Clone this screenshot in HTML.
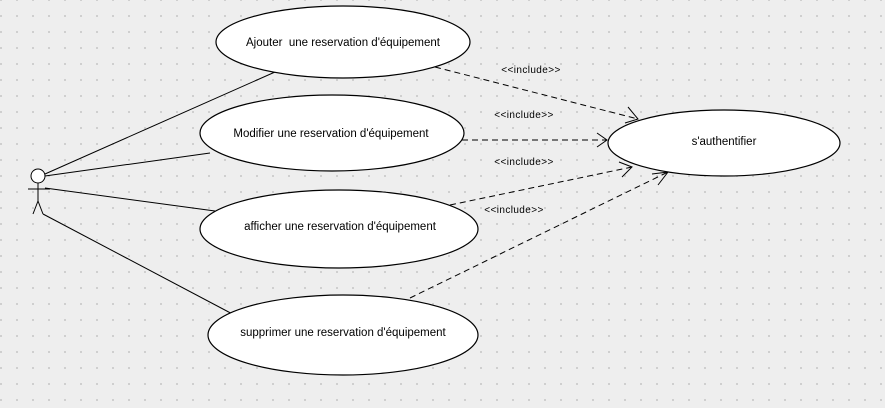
<!DOCTYPE html>
<html><head><meta charset="utf-8"><style>
html,body{margin:0;padding:0;background:#eeeeee;}
svg{display:block;}
text{font-family:"Liberation Sans",sans-serif;fill:#000;}
</style></head><body>
<svg width="885" height="408" viewBox="0 0 885 408" xmlns="http://www.w3.org/2000/svg">
<defs>
<pattern id="dots" x="0" y="15" width="16" height="16" patternUnits="userSpaceOnUse">
<rect x="0" y="0" width="2" height="2" fill="#cfcfcf"/>
</pattern>
</defs>
<rect width="885" height="408" fill="#eeeeee"/>
<rect width="885" height="408" fill="url(#dots)"/>

<g stroke="#000" stroke-width="1" fill="none">
<line x1="45" y1="174" x2="275" y2="72"/>
<line x1="45" y1="176" x2="210" y2="153"/>
<line x1="45" y1="188" x2="215" y2="211"/>
<line x1="43" y1="214" x2="240" y2="318"/>
</g>

<g stroke="#000" stroke-width="1.2" fill="#fff">
<ellipse cx="343" cy="42" rx="127" ry="36"/>
<ellipse cx="332" cy="133" rx="132" ry="38"/>
<ellipse cx="339" cy="229" rx="139" ry="39"/>
<ellipse cx="343" cy="335" rx="135" ry="40"/>
<ellipse cx="724" cy="143" rx="116" ry="33"/>
</g>

<g font-size="11.5" text-anchor="middle">
<text x="343" y="46">Ajouter&#160; une reservation d'équipement</text>
<text x="331" y="137">Modifier une reservation d'équipement</text>
<text x="340" y="230">afficher une reservation d'équipement</text>
<text x="343" y="336">supprimer une reservation d'équipement</text>
<text x="724" y="145">s'authentifier</text>
</g>

<g stroke="#000" stroke-width="1" fill="none" stroke-dasharray="6,4">
<line x1="435" y1="67" x2="638" y2="119"/>
<line x1="462" y1="140" x2="607" y2="140"/>
<line x1="450" y1="205" x2="632" y2="167"/>
<line x1="410" y1="298" x2="668" y2="172"/>
</g>
<g stroke="#000" stroke-width="1" fill="none">
<polyline points="628,107 638,119 625,123"/>
<polyline points="597,133 607,140 597,147"/>
<polyline points="619,162 632,167 622,177"/>
<polyline points="652,174 668,172 658,185"/>
</g>

<g font-size="10" text-anchor="middle" letter-spacing="0.4">
<text x="531" y="73">&lt;&lt;include&gt;&gt;</text>
<text x="524" y="118">&lt;&lt;include&gt;&gt;</text>
<text x="524" y="165">&lt;&lt;include&gt;&gt;</text>
<text x="514" y="213">&lt;&lt;include&gt;&gt;</text>
</g>

<g stroke="#000" stroke-width="1" fill="none">
<circle cx="38" cy="176" r="7" fill="#fff"/>
<line x1="38" y1="183" x2="38" y2="201"/>
<line x1="28" y1="189" x2="50" y2="189"/>
<polyline points="33,214 38,201 43,214"/>
</g>
</svg>
</body></html>
